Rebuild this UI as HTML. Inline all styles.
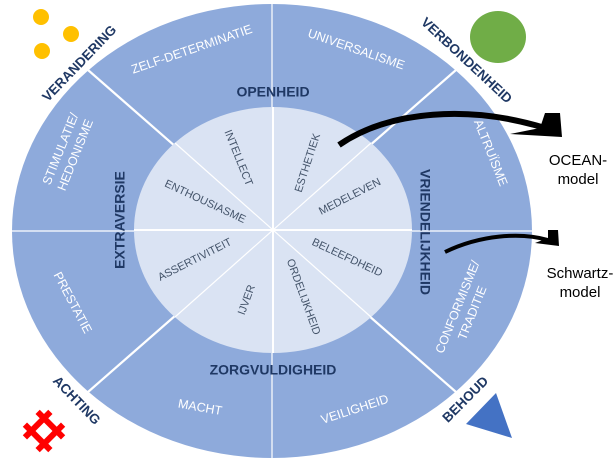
<!DOCTYPE html>
<html><head><meta charset="utf-8"><style>
html,body{margin:0;padding:0;background:#fff;}
svg{display:block;font-family:"Liberation Sans",sans-serif;}
.o{fill:#fff;font-size:12.5px;}
.i{fill:#44546a;font-size:11px;}
.d{fill:#1f3864;font-size:14px;font-weight:bold;}
.c{fill:#1f3864;font-size:13.5px;font-weight:bold;}
</style></head><body>
<svg width="616" height="472" viewBox="0 0 616 472" xmlns="http://www.w3.org/2000/svg">
<ellipse cx="272" cy="231" rx="260" ry="227" fill="#8eaadb"/>
<g stroke="#fff" stroke-width="2.2">
<line x1="272" y1="4" x2="272" y2="458" stroke-width="1.2"/>
<line x1="12" y1="231" x2="532" y2="231" stroke-width="1.2"/>
<line x1="88" y1="70" x2="456" y2="392"/>
<line x1="88" y1="392" x2="456" y2="70"/>
</g>
<ellipse cx="273" cy="230" rx="139" ry="123" fill="#dae3f3"/>
<g stroke="#fff" stroke-width="1.2">
<line x1="273" y1="107" x2="273" y2="353" stroke-width="2"/>
<line x1="134" y1="230" x2="412" y2="230" stroke-width="2"/>
<line x1="175" y1="143" x2="371" y2="317"/>
<line x1="175" y1="317" x2="371" y2="143"/>
</g>
<g class="i" text-anchor="middle" dominant-baseline="middle">
<text transform="translate(238,158) rotate(68)">INTELLECT</text>
<text transform="translate(308,163) rotate(-72)">ESTHETIEK</text>
<text transform="translate(205,202) rotate(25)">ENTHOUSIASME</text>
<text transform="translate(350,197) rotate(-27)">MEDELEVEN</text>
<text transform="translate(195,260) rotate(-27)">ASSERTIVITEIT</text>
<text transform="translate(347,258) rotate(25)">BELEEFDHEID</text>
<text transform="translate(247,300) rotate(-70)">IJVER</text>
<text transform="translate(303,297) rotate(70)">ORDELIJKHEID</text>
</g>
<g class="o" text-anchor="middle" dominant-baseline="middle">
<text transform="translate(192,50) rotate(-19)">ZELF-DETERMINATIE</text>
<text transform="translate(356,50) rotate(19)">UNIVERSALISME</text>
<text transform="translate(490,153) rotate(68)">ALTRUÏSME</text>
<text transform="translate(465,310) rotate(-68)"><tspan x="0" dy="-7">CONFORMISME/</tspan><tspan x="0" dy="16">TRADITIE</tspan></text>
<text transform="translate(355,410) rotate(-18)">VEILIGHEID</text>
<text transform="translate(200,408) rotate(10)">MACHT</text>
<text transform="translate(72,303) rotate(62)">PRESTATIE</text>
<text transform="translate(68,152) rotate(-68)"><tspan x="0" dy="-7">STIMULATIE/</tspan><tspan x="0" dy="16">HEDONISME</tspan></text>
</g>
<g class="d" text-anchor="middle" dominant-baseline="middle">
<text x="273" y="93">OPENHEID</text>
<text x="273" y="371">ZORGVULDIGHEID</text>
<text transform="translate(121,220) rotate(-90)">EXTRAVERSIE</text>
<text transform="translate(424,232) rotate(90)">VRIENDELIJKHEID</text>
</g>
<g class="c" text-anchor="middle" dominant-baseline="middle">
<text transform="translate(80,64) rotate(-46)">VERANDERING</text>
<text transform="translate(466,61) rotate(43)">VERBONDENHEID</text>
<text transform="translate(76,401) rotate(46)">ACHTING</text>
<text transform="translate(466,400) rotate(-45)">BEHOUD</text>
</g>
<circle cx="41" cy="17" r="8" fill="#ffc000"/>
<circle cx="71" cy="34" r="8" fill="#ffc000"/>
<circle cx="42" cy="51" r="8" fill="#ffc000"/>
<ellipse cx="498" cy="37" rx="28" ry="26" fill="#70ad47"/>
<polygon points="466,424 496,393 512,438" fill="#4472c4"/>
<g stroke="#f00" stroke-width="6" transform="translate(44,431) rotate(-45)">
<line x1="-18" y1="-9" x2="18" y2="-9"/>
<line x1="-18" y1="9" x2="18" y2="9"/>
<line x1="-9" y1="-18" x2="-9" y2="18"/>
<line x1="9" y1="-18" x2="9" y2="18"/>
</g>
<path d="M339,145 C390,110 470,105 545,128" fill="none" stroke="#000" stroke-width="6"/>
<polygon points="545,113 560,113 562,137 510,134 540,128" fill="#000"/>
<path d="M445,252 C480,235 520,232 548,240" fill="none" stroke="#000" stroke-width="4"/>
<polygon points="548,230 558,230 559,246 535,243 548,238" fill="#000"/>
<g font-size="15" fill="#000" text-anchor="middle">
<text x="578" y="165">OCEAN-</text>
<text x="578" y="184">model</text>
<text x="580" y="278">Schwartz-</text>
<text x="580" y="297">model</text>
</g>
</svg>
</body></html>
